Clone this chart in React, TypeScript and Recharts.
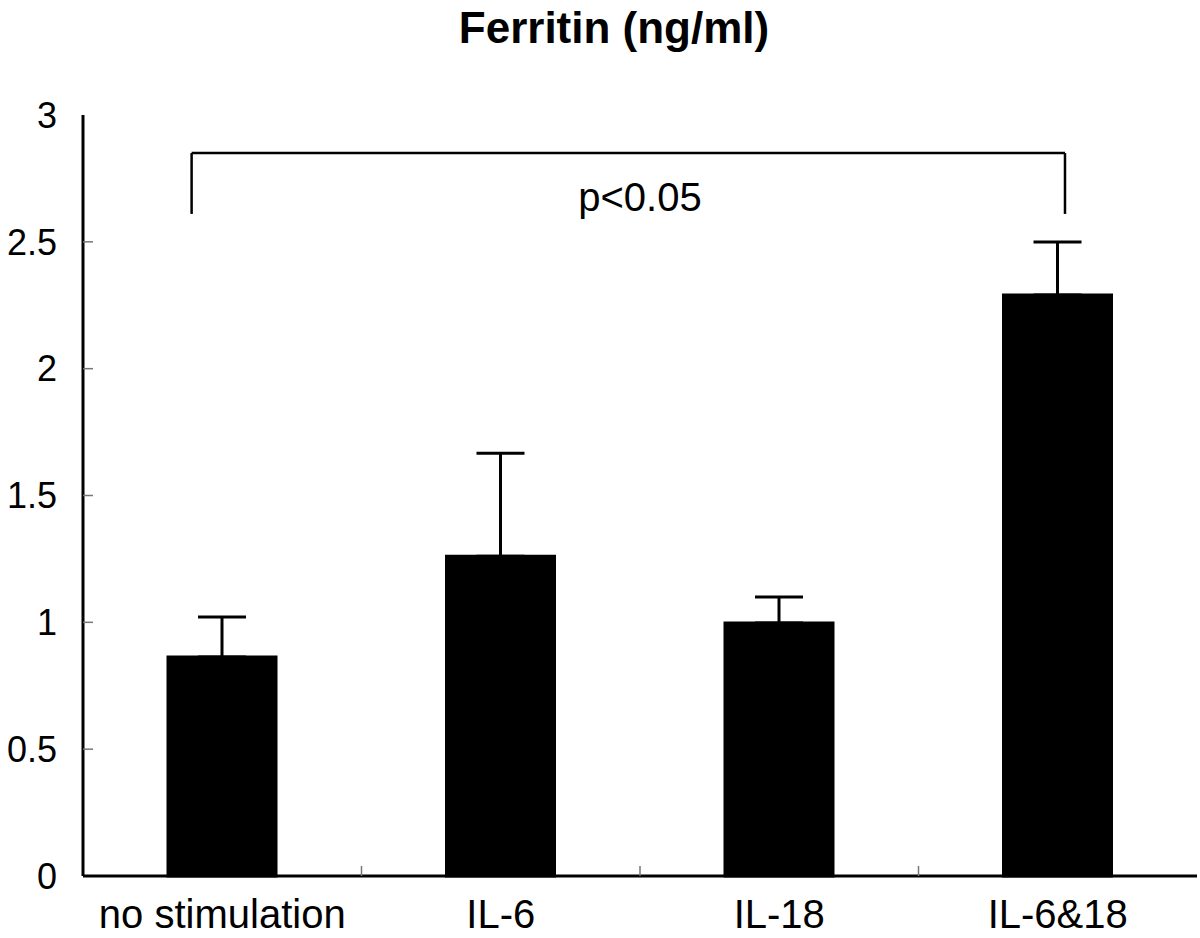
import React from "react";
import {
  BarChart,
  Bar,
  XAxis,
  YAxis,
  ErrorBar,
  ReferenceLine,
  ReferenceDot,
} from "recharts";

const categories = ["no stimulation", "IL-6", "IL-18", "IL-6&18"];
const means = [0.863, 1.261, 0.997, 2.29];
const sems = [0.158, 0.406, 0.103, 0.209];
const yTicks = [0, 0.5, 1, 1.5, 2, 2.5, 3];
// slot position of each category on the 0..4 annotation axis
const slots = [0.5, 1.5, 2.5, 3.5];

// significance bracket (annotation axis units: 0..4 across the categories)
const bracketX = [0.39, 3.526];
const bracketTop = 2.85;
const bracketLeg = 2.61;
const pLabel = "p<0.05";
const pPos = { x: 2, y: 2.676 };

const FONT = '"Liberation Sans", Arial, Helvetica, sans-serif';
const Y_MARGIN = 26;
const X_MARGIN = 24;
const INNER_TICK = 10;

const data = categories.map((name, i) => ({
  name,
  slot: slots[i],
  value: means[i],
  err: [0, sems[i]],
}));

// y label plus a short tick pointing into the plot
const YTick = (props: any) => {
  const { x, y, payload } = props;
  const axisX = x + Y_MARGIN;
  const edge = payload.value === 0 || payload.value === 3;
  return (
    <g>
      {!edge && (
        <line
          x1={axisX}
          x2={axisX + INNER_TICK}
          y1={y}
          y2={y}
          stroke="#777"
          strokeWidth={1.5}
        />
      )}
      <text
        x={x}
        y={y}
        dy="0.355em"
        textAnchor="end"
        fill="#000"
        fontSize={36}
        fontFamily={FONT}
      >
        {payload.value}
      </text>
    </g>
  );
};

// category label plus a short upward tick at the right edge of the band
const XTick = (props: any) => {
  const { x, y, payload, index, visibleTicksCount } = props;
  const axisY = y - X_MARGIN;
  const half = payload.offset || 0;
  const last = index === (visibleTicksCount ?? categories.length) - 1;
  return (
    <g>
      {!last && half > 0 && (
        <line
          x1={x + half}
          x2={x + half}
          y1={axisY}
          y2={axisY - INNER_TICK}
          stroke="#777"
          strokeWidth={1.5}
        />
      )}
      <text
        x={x}
        y={y}
        dy="0.71em"
        textAnchor="middle"
        fill="#000"
        fontSize={40}
        fontFamily={FONT}
      >
        {payload.value}
      </text>
    </g>
  );
};

export default function App() {
  return (
    <div
      style={{
        position: "absolute",
        left: 0,
        top: 0,
        width: 1200,
        height: 938,
        background: "#fff",
        fontFamily: FONT,
      }}
    >
      <div
        style={{
          position: "absolute",
          left: 0,
          top: 3,
          width: 1228,
          textAlign: "center",
          fontWeight: "bold",
          fontSize: 44,
          color: "#000",
        }}
      >
        Ferritin (ng/ml)
      </div>
      <BarChart
        width={1200}
        height={938}
        data={data}
        margin={{ top: 115, right: 3, left: 0, bottom: 0 }}
      >
        <XAxis
          dataKey="name"
          height={62}
          axisLine={{ stroke: "#000", strokeWidth: 3 }}
          tickLine={false}
          tickSize={0}
          tickMargin={X_MARGIN}
          interval={0}
          tick={<XTick />}
        />
        <XAxis
          xAxisId="edges"
          dataKey="slot"
          type="number"
          domain={[0, 4]}
          allowDataOverflow
          hide
        />
        <XAxis
          xAxisId="top"
          dataKey="name"
          orientation="top"
          height={0}
          tick={false}
          tickLine={false}
          axisLine={{ stroke: "#000", strokeWidth: 3 }}
        />
        <YAxis
          yAxisId="main"
          width={83}
          domain={[0, 3]}
          ticks={yTicks}
          interval={0}
          axisLine={{ stroke: "#000", strokeWidth: 3 }}
          tickLine={false}
          tickSize={0}
          tickMargin={Y_MARGIN}
          tick={<YTick />}
        />
        <YAxis
          yAxisId="right"
          orientation="right"
          domain={[0, 3]}
          width={0}
          tick={false}
          tickLine={false}
          axisLine={{ stroke: "#000", strokeWidth: 3 }}
        />
        <Bar
          dataKey="value"
          yAxisId="main"
          fill="#000"
          stroke="#000"
          strokeWidth={3}
          barSize={108}
          isAnimationActive={false}
        >
          <ErrorBar
            dataKey="err"
            direction="y"
            width={24}
            stroke="#000"
            strokeWidth={3}
            isAnimationActive={false}
          />
        </Bar>
        <ReferenceLine
          xAxisId="edges"
          yAxisId="main"
          segment={[
            { x: bracketX[0], y: bracketTop },
            { x: bracketX[1], y: bracketTop },
          ]}
          stroke="#000"
          strokeWidth={2.5}
        />
        <ReferenceLine
          xAxisId="edges"
          yAxisId="main"
          segment={[
            { x: bracketX[0], y: bracketTop },
            { x: bracketX[0], y: bracketLeg },
          ]}
          stroke="#000"
          strokeWidth={2.5}
        />
        <ReferenceLine
          xAxisId="edges"
          yAxisId="main"
          segment={[
            { x: bracketX[1], y: bracketTop },
            { x: bracketX[1], y: bracketLeg },
          ]}
          stroke="#000"
          strokeWidth={2.5}
        />
        <ReferenceDot
          xAxisId="edges"
          yAxisId="main"
          x={pPos.x}
          y={pPos.y}
          r={0}
          fill="none"
          stroke="none"
          label={{
            value: pLabel,
            position: "center",
            fill: "#000",
            fontSize: 40,
            fontFamily: FONT,
          }}
        />
      </BarChart>
    </div>
  );
}
